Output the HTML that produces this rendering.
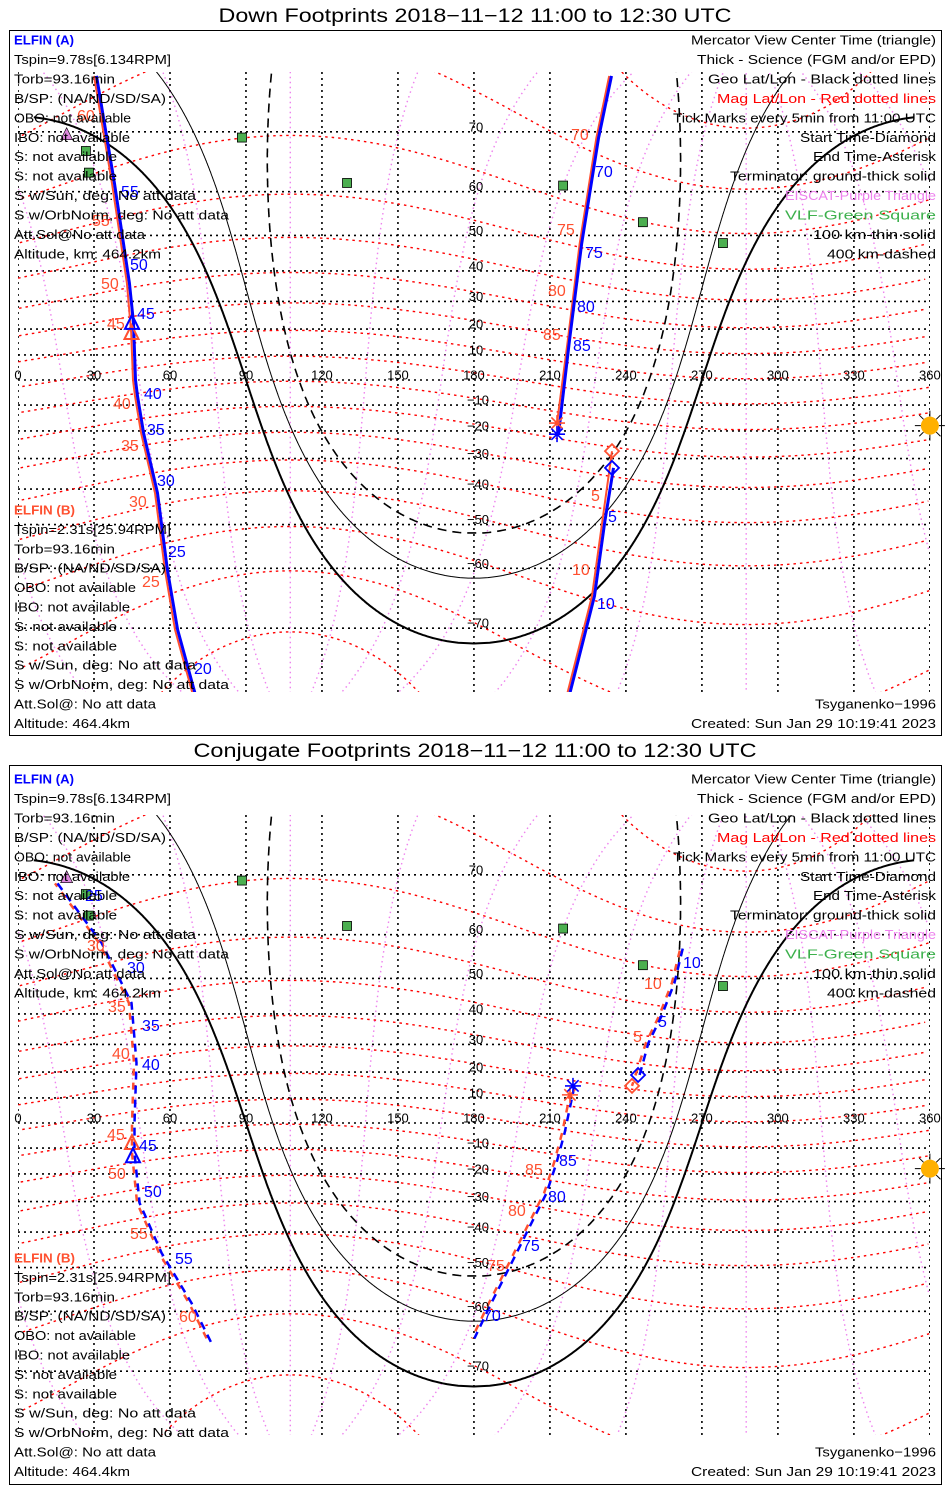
<!DOCTYPE html>
<html><head><meta charset="utf-8"><title>ELFIN Footprints</title>
<style>
html,body{margin:0;padding:0;background:#fff;overflow:hidden;width:950px;height:1500px;}
svg{display:block;}
text{font-family:"Liberation Sans",sans-serif;}
</style></head>
<body>
<svg id="chart" width="950" height="1500" xmlns="http://www.w3.org/2000/svg">
<rect x="0" y="0" width="950" height="1500" fill="#fff"/>
</svg>
<script>
// ---------- data ----------
const lonTicks=[0,30,60,90,120,150,180,210,240,270,300,330,360];
const latTicks=[-70,-60,-50,-40,-30,-20,-10,10,20,30,40,50,60,70];
const solarDec=-18;
const subsolarLon=360;
const terminatorDepressionSines=[0,0.175,0.339];
const magPoleLat=80.5, magPoleLon=287.5;
const magLatLines=[-80,-70,-60,-50,-40,-30,-20,-10,0,10,20,30,40,50,60,70,80];
const magLonLines=[0,30,60,90,120,150,180,210,240,270,300,330];
const vlfSites=[[88.4,69.2],[129.9,61.7],[215.2,61.2],[246.7,53.3],[278.3,48.0],[26.8,67.2],[28.0,63.6]];
const eiscatSites=[[16,78.2],[19.2,69.6]];

// Down footprints (panel 1)
const downA1=[[30.4,76.4],[37.5,61.6],[43.4,36.2],[45,22.3],[45.8,0],[46.6,-6.4],[49,-20.8],[54.5,-41.2],[58.4,-60.3],[62.4,-70.2],[69.5,-77.4]];
const downA2=[[212.8,-21.2],[217.1,15.4],[221.9,47.7],[228.6,69.1],[233.7,76.4]];
const downA3=[[234.5,-33.2],[231,-49.6],[227,-65.1],[217.1,-77.4]];
const downB1=[[30.0,76.4],[37.1,61.6],[43.0,36.2],[44.7,18.5],[45.4,0],[46.2,-6.4],[48.6,-20.8],[54.1,-41.2],[58.0,-60.3],[62.0,-70.2],[69.1,-77.4]];
const downB2=[[212.8,-17.0],[217.0,15.4],[221.7,47.7],[228.3,69.1],[233.4,76.4]];
const downB3=[[234.5,-27.4],[230.6,-49.6],[226.6,-65.1],[216.7,-77.4]];
const downCenterA=[45,22.3], downCenterB=[44.8,18.5];
const downEndA=[212.8,-21.2], downEndB=[212.8,-17.0];
const downStartA=[234.5,-33.2], downStartB=[234.5,-27.4];
const downLabelsA=[[121,191,'55'],[130,264,'50'],[137,313,'45'],[144,393,'40'],[147,429,'35'],[157,480,'30'],[168,551,'25'],[194,668,'20'],[595,171,'70'],[585,252,'75'],[577,306,'80'],[573,345,'85'],[608,516,'5'],[597,603,'10']];
const downLabelsB=[[77,115,'60'],[92,220,'55'],[101,283,'50'],[107,323,'45'],[113,403,'40'],[121,445,'35'],[129,501,'30'],[142,581,'25'],[571,134,'70'],[557,229,'75'],[548,290,'80'],[543,334,'85'],[591,495,'5'],[572,569,'10']];

// Conjugate footprints (panel 2)
const conjA1=[[15.0,68.8],[32.4,58.3],[44.2,43.3],[46.2,23.4],[45.4,0],[45.4,-11.9],[47.4,-30.5],[56.1,-46.1],[67.9,-58.3],[75.8,-65.8]];
const conjA2=[[219.1,14.7],[215.2,-4.0],[212.0,-15.8],[208.1,-27.0],[202.1,-37.2],[194.2,-48.9],[186.3,-58.3],[179.6,-65.0]];
const conjA3=[[244.8,18.9],[248.3,30.5],[253.5,39.4],[258.6,48.9],[262.1,57.7]];
const conjB1=[[14.6,68.8],[32.0,58.3],[43.8,43.3],[45.8,23.4],[45.0,0],[45.0,-11.9],[47.0,-30.5],[55.7,-46.1],[67.5,-58.3],[75.4,-65.8]];
const conjB2=[[217.9,11.2],[214.8,-4.0],[211.6,-15.8],[207.7,-27.0],[201.7,-37.2],[193.8,-48.9],[185.9,-58.3],[179.2,-65.0]];
const conjB3=[[242.4,14.7],[247.9,30.5],[253.1,39.4],[258.2,48.9],[261.7,57.7]];
const conjCenterA=[45.4,-13.2], conjCenterB=[45.0,-8.0];
const conjEndA=[219.1,14.7], conjEndB=[217.9,11.2];
const conjStartA=[244.8,18.9], conjStartB=[242.4,14.7];
const conjLabelsA=[[85,895,'25'],[127,967,'30'],[142,1025,'35'],[142,1064,'40'],[139,1145,'45'],[144,1191,'50'],[175,1258,'55'],[559,1160,'85'],[548,1196,'80'],[522,1245,'75'],[483,1315,'70'],[658,1021,'5'],[683,962,'10']];
const conjLabelsB=[[87,945,'30'],[108,1006,'35'],[112,1053,'40'],[107,1134,'45'],[108,1173,'50'],[130,1233,'55'],[179,1316,'60'],[525,1169,'85'],[508,1210,'80'],[487,1265,'75'],[633,1036,'5'],[644,983,'10']];

const leftA=[['ELFIN (A)',60],['Tspin=9.78s[6.134RPM]',157],['Torb=93.16min',101],['B/SP: (NA/ND/SD/SA)',152],['OBO: not available',117],['IBO: not available',116],['S: not available',103],['S: not available',103],['S w/Sun, deg: No att data',182],['S w/OrbNorm, deg: No att data',215],['Att.Sol@No att data',131],['Altitude, km: 464.2km',147]];
const leftB=[['ELFIN (B)',61],['Tspin=2.31s[25.94RPM]',157],['Torb=93.16min',101],['B/SP: (NA/ND/SD/SA)',152],['OBO: not available',122],['IBO: not available',116],['S: not available',103],['S: not available',103],['S w/Sun, deg: No att data',182],['S w/OrbNorm, deg: No att data',215],['Att.Sol@: No att data',142],['Altitude: 464.4km',116]];
const legendRight=[['Mercator View Center Time (triangle)',245,'#000'],['Thick - Science (FGM and/or EPD)',239,'#000'],['Geo Lat/Lon - Black dotted lines',228,'#000'],['Mag Lat/Lon - Red dotted lines',219,'#ff0000'],['Tick Marks every 5min from 11:00 UTC',263,'#000'],['Start Time-Diamond',136,'#000'],['End Time-Asterisk',123,'#000'],['Terminator: ground-thick solid',206,'#000'],['EISCAT-Purple Triangle',151,'#ee82ee'],['VLF-Green Square',151,'#3cb04c'],['100 km-thin solid',123,'#000'],['400 km-dashed',109,'#000']];

// ---------- helpers ----------
const NS='http://www.w3.org/2000/svg';
const svg=document.getElementById('chart');
function mk(tag,parent,attrs){const e=document.createElementNS(NS,tag);for(const k in attrs)e.setAttribute(k,attrs[k]);parent.appendChild(e);return e;}
const D=Math.PI/180;
const xScale=v=>18+v*2.533;
function makeY(eq){return lat=>eq-143*Math.log(Math.tan(Math.PI/4+lat*D/2));}
function pathFrom(pts,X,Y){return pts.map((p,i)=>(i?'L':'M')+X(p[0]).toFixed(1)+','+Y(p[1]).toFixed(1)).join('');}
function magToGeo(mlat,mlon){
  const th=(90-magPoleLat)*D, ph=magPoleLon*D;
  const x=Math.cos(mlat*D)*Math.cos(mlon*D), y=Math.cos(mlat*D)*Math.sin(mlon*D), z=Math.sin(mlat*D);
  const x1=x*Math.cos(th)+z*Math.sin(th), z1=-x*Math.sin(th)+z*Math.cos(th), y1=y;
  const X=x1*Math.cos(ph)-y1*Math.sin(ph), Yv=x1*Math.sin(ph)+y1*Math.cos(ph);
  let lon=Math.atan2(Yv,X)/D; if(lon<0)lon+=360;
  return [lon,Math.asin(Math.max(-1,Math.min(1,z1)))/D];
}
function brokenPath(pts,X,Y){let d='',prev=null;for(const p of pts){if(prev===null||Math.abs(p[0]-prev[0])>180)d+='M';else d+='L';d+=X(p[0]).toFixed(1)+','+Y(p[1]).toFixed(1);prev=p;}return d;}

function drawPanel(cfg,idx){
  const X=xScale, Y=makeY(cfg.eq);
  const g=mk('g',svg,{});
  
  
  const frame=mk('rect',g,{x:9.5,y:cfg.top+0.5,width:932,height:cfg.h,fill:'none',stroke:'#000','stroke-width':1});
  
  
  const title=mk('text',g,{x:475,y:cfg.top-8,'text-anchor':'middle','font-size':19,textLength:cfg.titleLen,lengthAdjust:'spacingAndGlyphs'});
  title.textContent=cfg.title;
  
  
  const cp=mk('clipPath',g,{id:'clip'+idx});
  mk('rect',cp,{x:18,y:cfg.mapTop,width:912,height:620});
  const map=mk('g',g,{'clip-path':'url(#clip'+idx+')'});
  
  
  for(const lon of lonTicks){
    const l=mk('line',map,{x1:X(lon),x2:X(lon),y1:cfg.mapTop,y2:cfg.mapTop+620,stroke:'#000','stroke-width':1.6,'stroke-dasharray':'2,4'});
    
    
  }
  for(const lat of latTicks.concat([0])){
    const l=mk('line',map,{x1:18,x2:930,y1:Y(lat),y2:Y(lat),stroke:'#000','stroke-width':1.6,'stroke-dasharray':'2,4'});
    
    
  }
  for(const ml of magLonLines){
    const pts=[];for(let a=-88;a<=88;a+=2)pts.push(magToGeo(a,ml));
    const p=mk('path',map,{d:brokenPath(pts,X,Y),fill:'none',stroke:'#ee82ee','stroke-width':1.4,'stroke-dasharray':'1.5,3.5'});
    
    
  }
  for(const ml of magLatLines){
    const pts=[];for(let a=0;a<=360;a+=2)pts.push(magToGeo(ml,a));
    pts.sort((a,b)=>a[0]-b[0]);
    const p=mk('path',map,{d:brokenPath(pts,X,Y),fill:'none',stroke:'#ff0000','stroke-width':1.4,'stroke-dasharray':'2.5,4'});
    
    
  }
  const tStyles=[{w:2,da:'none',n:'terminator-ground'},{w:1,da:'none',n:'terminator-100km'},{w:1.6,da:'9,6',n:'terminator-400km'}];
  terminatorDepressionSines.forEach((k,i)=>{
    const left=[],right=[];const sd=Math.sin(solarDec*D),cd=Math.cos(solarDec*D);
    for(let lat=86;lat>=-86;lat-=0.1){
      const c=(-k-Math.sin(lat*D)*sd)/(Math.cos(lat*D)*cd);
      if(c>=-1&&c<=1){const h=Math.acos(c)/D;left.push([subsolarLon-360+h,lat]);right.unshift([subsolarLon-h,lat]);}
    }
    const pts=left.concat(right);
    const p=mk('path',map,{d:pathFrom(pts,X,Y),fill:'none',stroke:'#000','stroke-width':tStyles[i].w,'stroke-dasharray':tStyles[i].da});
    
    
  });
  for(const s of vlfSites){
    const r=mk('rect',map,{x:X(s[0])-4.5,y:Y(s[1])-4.5,width:9,height:9,fill:'#4caf50',stroke:'#000','stroke-width':0.8});
    
    
  }
  for(const s of eiscatSites){
    const x=X(s[0]),y=Y(s[1]);
    const t=mk('polygon',map,{points:`${x-6},${y+5} ${x+6},${y+5} ${x},${y-7}`,fill:'#dd88dd',stroke:'#000','stroke-width':0.6});
    
    
  }
  const dash=cfg.dashed?'8,6':'none';
  for(const tr of cfg.tracksB){
    const p=mk('path',map,{d:pathFrom(tr,X,Y),fill:'none',stroke:'#ff5030','stroke-width':cfg.dashed?2.5:2,'stroke-dasharray':cfg.dashed?'7,7':'none','stroke-dashoffset':3});
    
    
  }
  for(const tr of cfg.tracksA){
    const p=mk('path',map,{d:pathFrom(tr,X,Y),fill:'none',stroke:'#0000ff','stroke-width':cfg.dashed?2.5:3,'stroke-dasharray':dash,transform:'translate(1.5,0)'});
    
    
  }
  function tri(pt,col,nm){const x=X(pt[0]),y=Y(pt[1]);const t=mk('polygon',map,{points:`${x-7},${y+6} ${x+7},${y+6} ${x},${y-8}`,fill:'none',stroke:col,'stroke-width':2});
    
    }
  function dia(pt,col,nm){const x=X(pt[0]),y=Y(pt[1]);const t=mk('polygon',map,{points:`${x},${y-7} ${x+7},${y} ${x},${y+7} ${x-7},${y}`,fill:'none',stroke:col,'stroke-width':1.8});
    
    }
  function ast(pt,col,nm){const x=X(pt[0]),y=Y(pt[1]);let d='';for(let a=0;a<180;a+=45){const dx=8*Math.cos(a*D),dy=8*Math.sin(a*D);d+=`M${x-dx},${y-dy}L${x+dx},${y+dy}`;}
    const t=mk('path',map,{d:d,stroke:col,'stroke-width':1.6});
    
    }
  tri(cfg.centerB,'#ff5030','elfin-b-center-triangle');tri(cfg.centerA,'#0000ff','elfin-a-center-triangle');
  dia(cfg.startB,'#ff5030','elfin-b-start-diamond');dia(cfg.startA,'#0000ff','elfin-a-start-diamond');
  ast(cfg.endB,'#ff5030','elfin-b-end-asterisk');ast(cfg.endA,'#0000ff','elfin-a-end-asterisk');
  const sx=X(subsolarLon),sy=Y(solarDec);
  let rd='';for(let a=0;a<360;a+=45){rd+=`M${sx+9*Math.cos(a*D)},${sy+9*Math.sin(a*D)}L${sx+15*Math.cos(a*D)},${sy+15*Math.sin(a*D)}`;}
  const rays=mk('path',g,{d:rd,stroke:'#000','stroke-width':1});
  
  
  const sun=mk('circle',g,{cx:sx,cy:sy,r:9,fill:'#ffb000'});
  
  
  for(const lon of lonTicks){
    const t=mk('text',g,{x:X(lon),y:Y(0)-0.5,'text-anchor':'middle','font-size':13});
    t.textContent=String(lon);
    
    
  }
  for(const lat of latTicks){
    const t=mk('text',g,{x:lat<0?478:476,y:Y(lat)-0.5,'text-anchor':'middle','font-size':13});
    t.textContent=(lat<0?'\u2212':'')+Math.abs(lat);
    
    
  }
  for(const l of cfg.labelsB){
    const t=mk('text',g,{x:l[0],y:l[1]+6,'font-size':16,fill:'#ff5030'});
    t.textContent=l[2];
    
    
  }
  for(const l of cfg.labelsA){
    const t=mk('text',g,{x:l[0],y:l[1]+6,'font-size':16,fill:'#0000ff'});
    t.textContent=l[2];
    
    
  }
  leftA.forEach((r,i)=>{
    const t=mk('text',g,{x:14,y:cfg.aTop+i*19.45+4.5,'font-size':13,textLength:r[1],lengthAdjust:'spacingAndGlyphs',fill:i===0?'#0000ff':'#000','font-weight':i===0?'bold':'normal'});
    t.textContent=r[0];
    
    
  });
  leftB.forEach((r,i)=>{
    const t=mk('text',g,{x:14,y:cfg.bTop+i*19.4+4.5,'font-size':13,textLength:r[1],lengthAdjust:'spacingAndGlyphs',fill:i===0?'#ff5030':'#000','font-weight':i===0?'bold':'normal'});
    t.textContent=r[0];
    
    
  });
  legendRight.forEach((r,i)=>{
    const t=mk('text',g,{x:936-r[1],y:cfg.aTop+i*19.45+4.5,'font-size':13,textLength:r[1],lengthAdjust:'spacingAndGlyphs',fill:r[2]});
    t.textContent=r[0];
    
    
  });
  const ts=mk('text',g,{x:815,y:cfg.bTop+10*19.4+4.5,'font-size':13,textLength:121,lengthAdjust:'spacingAndGlyphs'});
  ts.textContent='Tsyganenko\u22121996';
  
  
  const cr=mk('text',g,{x:691,y:cfg.bTop+11*19.4+4.5,'font-size':13,textLength:245,lengthAdjust:'spacingAndGlyphs'});
  cr.textContent='Created: Sun Jan 29 10:19:41 2023';
  
  
}

drawPanel({name:'down-footprints-panel',top:30,h:705,eq:380,mapTop:72,title:'Down Footprints 2018\u221211\u221212 11:00 to 12:30 UTC',titleLen:513,
  tracksA:[downA1,downA2,downA3],tracksB:[downB1,downB2,downB3],dashed:false,
  centerA:downCenterA,centerB:downCenterB,startA:downStartA,startB:downStartB,endA:downEndA,endB:downEndB,
  labelsA:downLabelsA,labelsB:downLabelsB,aTop:40,bTop:510},0);
drawPanel({name:'conjugate-footprints-panel',top:765,h:719,eq:1123,mapTop:815,title:'Conjugate Footprints 2018\u221211\u221212 11:00 to 12:30 UTC',titleLen:563,
  tracksA:[conjA1,conjA2,conjA3],tracksB:[conjB1,conjB2,conjB3],dashed:true,
  centerA:conjCenterA,centerB:conjCenterB,startA:conjStartA,startB:conjStartB,endA:conjEndA,endB:conjEndB,
  labelsA:conjLabelsA,labelsB:conjLabelsB,aTop:779,bTop:1258},1);
</script>
</body></html>
